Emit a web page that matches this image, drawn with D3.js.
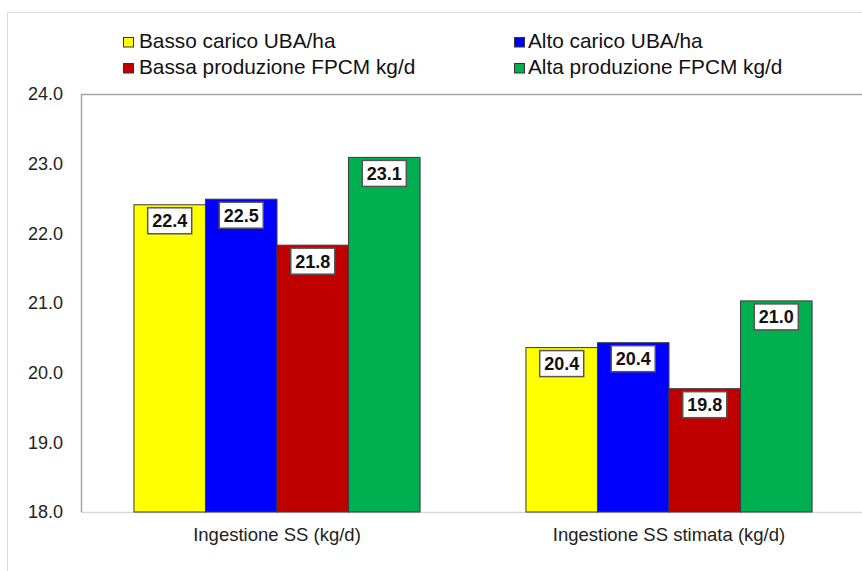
<!DOCTYPE html>
<html>
<head>
<meta charset="utf-8">
<script src="https://cdn.jsdelivr.net/npm/d3@7/dist/d3.min.js"></script>
<style>
  html, body { margin: 0; padding: 0; background: #fff; }
  svg { display: block; font-family: "Liberation Sans", Arial, sans-serif; }
</style>
</head>
<body>
<svg id="chart" width="862" height="571"></svg>
<script>
// Categories on the x axis
const categories = ["Ingestione SS (kg/d)", "Ingestione SS stimata (kg/d)"];
// Series names (legend order)
const seriesNames = [
  "Basso carico UBA/ha",
  "Alto carico UBA/ha",
  "Bassa produzione FPCM kg/d",
  "Alta produzione FPCM kg/d"
];
const seriesColors = ["#FFFF00", "#0000FF", "#C00000", "#00B050"];
// Values per series, one per category
const bassoCarico = [22.41, 20.36];
const altoCarico = [22.49, 20.43];
const bassaProduzione = [21.83, 19.77];
const altaProduzione = [23.09, 21.03];
const seriesValues = [bassoCarico, altoCarico, bassaProduzione, altaProduzione];
// Y axis ticks
const yTicks = [18, 19, 20, 21, 22, 23, 24];

const svg = d3.select("#chart");
const W = 862, H = 571;
const plot = { left: 81, top: 94, right: 865, bottom: 512 };

// outer chart-area border
svg.append("path")
  .attr("d", `M7.5,${H} V12.5 H${W}`)
  .attr("fill", "none").attr("stroke", "#d9d9d9").attr("stroke-width", 1);

const y = d3.scaleLinear().domain([18, 24]).range([plot.bottom, plot.top]);
const x0 = d3.scaleBand().domain(categories).range([plot.left, plot.right]).padding(0);
const x1 = d3.scaleBand().domain(d3.range(seriesNames.length))
  .range([0, x0.bandwidth()]).paddingInner(0).paddingOuter(0.74);

// plot frame
svg.append("line").attr("x1", plot.left).attr("x2", W).attr("y1", plot.bottom + 0.5).attr("y2", plot.bottom + 0.5)
  .attr("stroke", "#d9d9d9").attr("stroke-width", 1.5);
svg.append("path")
  .attr("d", `M${plot.left + 0.5},${plot.bottom} V${plot.top + 0.5} H${W}`)
  .attr("fill", "none").attr("stroke", "#a6a6a6").attr("stroke-width", 1.5);

// y axis labels
const yAxis = d3.axisLeft(y).tickValues(yTicks).tickFormat(d3.format(".1f")).tickSize(0).tickPadding(18);
const yg = svg.append("g").attr("transform", `translate(${plot.left},0)`).call(yAxis);
yg.select(".domain").remove();
yg.selectAll("text").attr("font-size", 18).attr("fill", "#222")
  .attr("font-family", "'Liberation Sans', Arial, sans-serif");

// x axis labels
const xAxis = d3.axisBottom(x0).tickSize(0).tickPadding(16);
const xg = svg.append("g").attr("transform", `translate(0,${plot.bottom})`).call(xAxis);
xg.select(".domain").remove();
xg.selectAll("text").attr("font-size", 18.5).attr("fill", "#222")
  .attr("font-family", "'Liberation Sans', Arial, sans-serif");

// bars
const fmt = d3.format(".1f");
const rows = [];
categories.forEach((c, ci) => {
  seriesValues.forEach((vals, si) => rows.push({ c, si, v: vals[ci] }));
});

svg.append("g").selectAll("rect.bar").data(rows).join("rect")
  .attr("class", "bar")
  .attr("x", d => x0(d.c) + x1(d.si))
  .attr("y", d => y(d.v))
  .attr("width", x1.bandwidth())
  .attr("height", d => y(18) - y(d.v))
  .attr("fill", d => seriesColors[d.si])
  .attr("stroke", "#3a3a3a").attr("stroke-width", 1);

// value labels in white boxes
const lab = svg.append("g").selectAll("g").data(rows).join("g")
  .attr("transform", d => `translate(${x0(d.c) + x1(d.si) + x1.bandwidth() / 2},${y(d.v) + 3})`);
lab.append("rect")
  .attr("x", -22).attr("y", 0).attr("width", 44).attr("height", 26)
  .attr("fill", "#fff").attr("stroke", "#555").attr("stroke-width", 1.5);
lab.append("text")
  .attr("y", 19.5).attr("text-anchor", "middle")
  .attr("font-size", 18).attr("font-weight", "bold").attr("fill", "#111")
  .text(d => fmt(d.v));

// legend: two columns, two rows
const legendPos = [[123, 37, 16], [514, 37, 14], [123, 63, 16], [514, 63, 14]];
const leg = svg.append("g").selectAll("g").data(seriesNames).join("g")
  .attr("transform", (d, i) => `translate(${legendPos[i][0]},${legendPos[i][1]})`);
leg.append("rect").attr("x", 0.5).attr("y", 0.5).attr("width", 10).attr("height", 9.5)
  .attr("fill", (d, i) => seriesColors[i]).attr("stroke", "#333").attr("stroke-width", 1);
leg.append("text").attr("x", (d, i) => legendPos[i][2]).attr("y", 10.5)
  .attr("font-size", 20.8).attr("fill", "#111").text(d => d);
</script>
</body>
</html>
